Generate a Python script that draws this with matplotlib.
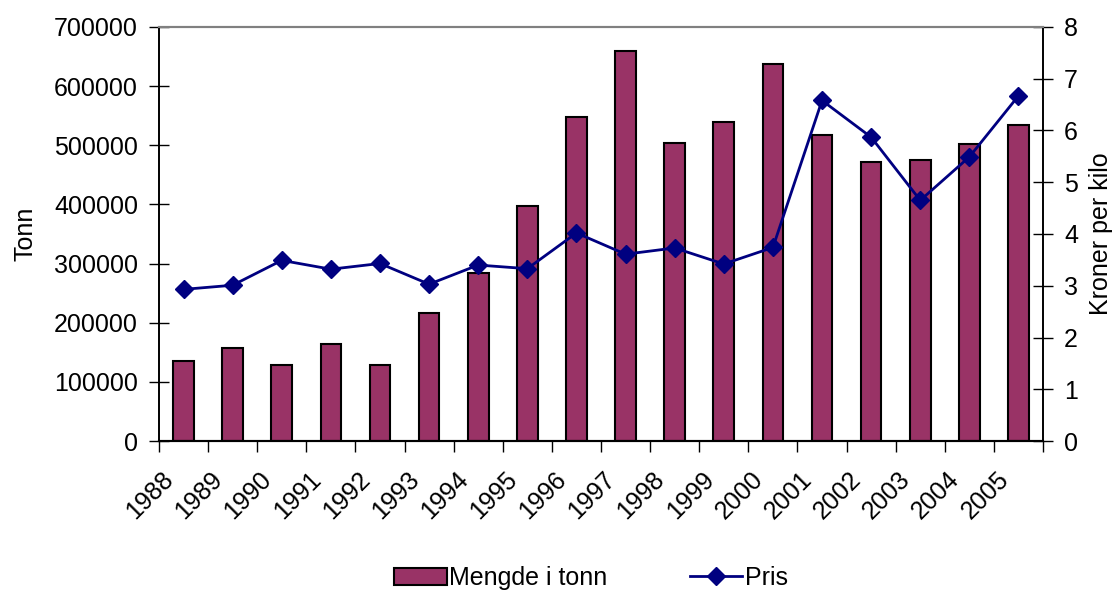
import matplotlib.pyplot as plt
import numpy as np

plt.rcParams['font.family'] = ['Liberation Sans', 'DejaVu Sans']

aar = ['1988', '1989', '1990', '1991', '1992', '1993', '1994', '1995', '1996',
       '1997', '1998', '1999', '2000', '2001', '2002', '2003', '2004', '2005']
mengde = [135000, 157600, 128000, 164000, 129000, 217000, 284000, 398000, 548000,
          659000, 504000, 539000, 637000, 517000, 472000, 475000, 502000, 535000]
pris = [2.93, 3.01, 3.49, 3.32, 3.43, 3.03, 3.40, 3.33, 4.02,
        3.61, 3.73, 3.42, 3.74, 6.58, 5.87, 4.65, 5.49, 6.67]

fs = 18

fig = plt.figure(figsize=(11.17, 5.90), dpi=100)
ax = fig.add_axes([0.1423, 0.2525, 0.7915, 0.7018])
x = np.arange(len(aar))

stolper = ax.bar(x, mengde, width=0.42, color='#993366', edgecolor='black',
                 linewidth=1.5, zorder=2, label='Mengde i tonn')
ax.set_xlim(-0.5, len(aar) - 0.5)
ax.set_ylim(0, 700000)
ax.set_yticks(range(0, 700001, 100000))
ax.set_ylabel('Tonn', fontsize=fs, labelpad=12)

ax2 = ax.twinx()
linje, = ax2.plot(x, pris, color='#000080', linewidth=2, marker='D',
                  markersize=9, label='Pris', zorder=3)
ax2.set_ylim(0, 8)
ax2.set_yticks(range(0, 9))
ax2.set_ylabel('Kroner per kilo', fontsize=fs, labelpad=8)

# x-akse: tick-streker mellom kategoriene, etiketter på skrå
ax.set_xticks(np.arange(-0.5, len(aar), 1.0))
ax.set_xticklabels([])
ax.tick_params(axis='x', direction='out', length=8, width=1)
for i, a in enumerate(aar):
    ax.annotate(a, xy=(i, 0), xycoords=('data', 'axes fraction'),
                xytext=(-16, -19), textcoords='offset points',
                rotation=45, ha='right', va='top', rotation_mode='anchor',
                fontsize=fs)

ax.tick_params(axis='y', direction='inout', length=14, width=1, labelsize=fs, pad=8)
ax2.tick_params(axis='y', direction='inout', length=14, width=1, labelsize=fs, pad=8)

for s in [ax, ax2]:
    s.spines['top'].set_color('#808080')
    s.spines['top'].set_linewidth(1.5)
    s.spines['left'].set_linewidth(1.2)
    s.spines['right'].set_linewidth(1.2)
    s.spines['bottom'].set_linewidth(1.5)

ax.set_zorder(ax2.get_zorder() - 1)
ax2.patch.set_visible(False)

fig.legend([stolper, linje], ['Mengde i tonn', 'Pris'], loc='center',
           bbox_to_anchor=(0.529, 0.02), ncol=2, frameon=False, fontsize=fs,
           handlelength=2.1, handletextpad=0.1, columnspacing=3.3)

fig.savefig('out.png', dpi=100)
